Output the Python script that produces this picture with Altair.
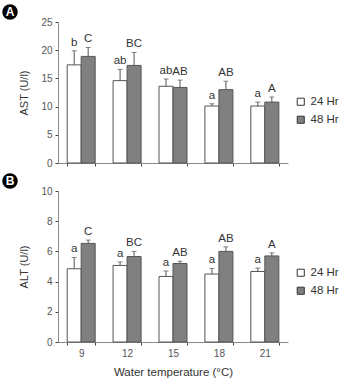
import altair as alt
import pandas as pd

temps = ["9", "12", "15", "18", "21"]
groups = ["24 Hr", "48 Hr"]

ast_24 = [17.4, 14.6, 13.6, 10.1, 10.1]
ast_24_upper = [19.9, 16.6, 14.9, 10.5, 10.8]
ast_48 = [18.9, 17.3, 13.4, 13.0, 10.8]
ast_48_upper = [20.5, 19.6, 14.7, 14.5, 11.7]
ast_24_letters = ["b", "ab", "ab", "a", "a"]
ast_48_letters = ["C", "BC", "AB", "AB", "A"]

alt_24 = [4.85, 5.07, 4.34, 4.5, 4.67]
alt_24_upper = [5.6, 5.3, 4.7, 4.87, 4.9]
alt_48 = [6.53, 5.66, 5.2, 6.0, 5.7]
alt_48_upper = [6.75, 6.0, 5.35, 6.3, 5.9]
alt_24_letters = ["a", "a", "a", "a", "a"]
alt_48_letters = ["C", "BC", "AB", "AB", "A"]


def make_df(v24, u24, l24, v48, u48, l48):
    rows = []
    for i, t in enumerate(temps):
        rows.append({"temp": t, "group": groups[0], "value": v24[i], "upper": u24[i], "letter": l24[i]})
        rows.append({"temp": t, "group": groups[1], "value": v48[i], "upper": u48[i], "letter": l48[i]})
    return pd.DataFrame(rows)


AXIS_GREY = "#8a8a8a"
TXT = "#555555"
FONT = "Liberation Sans"


def panel(df, ytitle, ymax, ystep, height, show_x, tag, legend_y):
    base = alt.Chart(df)
    if show_x:
        xaxis = alt.Axis(title="Water temperature (°C)", labelAngle=0, tickBand="extent",
                         labelFontSize=10, labelColor=TXT, titleFontSize=11.5, titleColor="#333",
                         titleFontWeight="normal", titlePadding=8, domainColor=AXIS_GREY,
                         tickColor="#444", tickSize=3, labelPadding=3)
    else:
        xaxis = alt.Axis(title=None, labels=False, tickBand="extent", domainColor=AXIS_GREY,
                         tickColor="#444", tickSize=3)
    x = alt.X("temp:N", sort=temps, scale=alt.Scale(paddingInner=0.39, paddingOuter=0.2), axis=xaxis)
    xo = alt.XOffset("group:N", sort=groups, scale=alt.Scale(domain=groups, paddingInner=0, paddingOuter=0))
    yscale = alt.Scale(domain=[0, ymax], nice=False)
    yaxis = alt.Axis(title=ytitle, values=list(range(0, ymax + 1, ystep)), grid=False,
                     labelFontSize=10, labelColor=TXT, titleFontSize=11, titleColor="#333",
                     titleFontWeight="normal", titlePadding=11, domainColor=AXIS_GREY,
                     tickColor="#444", tickSize=3, labelPadding=3, labelOverlap=False)
    y_val = alt.Y("value:Q", scale=yscale, axis=yaxis)
    y_up = alt.Y("upper:Q", scale=yscale, axis=yaxis)
    bars = base.mark_bar(stroke="#555", strokeWidth=1).encode(
        x=x, xOffset=xo, y=y_val,
        color=alt.Color("group:N", sort=groups,
                        scale=alt.Scale(domain=groups, range=["#ffffff", "#808080"]),
                        legend=alt.Legend(title=None, orient="none", legendX=237, legendY=legend_y,
                                          symbolType="square", symbolSize=50, symbolStrokeColor="#333",
                                          symbolStrokeWidth=1, labelFontSize=11.5, labelColor="#333",
                                          rowPadding=5, labelFont=FONT, labelOffset=4)),
    )
    rules = base.mark_rule(color="#555", strokeWidth=1).encode(
        x=x, xOffset=xo, y=y_val, y2="upper:Q")
    caps = base.mark_tick(size=5, thickness=1, color="#555", orient="horizontal").encode(
        x=x, xOffset=xo, y=y_up)
    letters = base.mark_text(baseline="bottom", dy=-3, fontSize=11.5, color="#333", font=FONT).encode(
        x=x, xOffset=xo, y=y_up, text="letter:N")
    tagdf = pd.DataFrame({"tag": [tag]})
    circ = alt.Chart(tagdf).mark_circle(color="black", opacity=1, size=240).encode(
        x=alt.value(-48), y=alt.value(-10))
    tagtxt = alt.Chart(tagdf).mark_text(color="white", fontWeight="bold", fontSize=12, font=FONT,
                                        baseline="middle", align="center").encode(
        x=alt.value(-48), y=alt.value(-10), text="tag:N")
    return alt.layer(bars, rules, caps, letters, circ, tagtxt).properties(width=230, height=height)


dfA = make_df(ast_24, ast_24_upper, ast_24_letters, ast_48, ast_48_upper, ast_48_letters)
dfB = make_df(alt_24, alt_24_upper, alt_24_letters, alt_48, alt_48_upper, alt_48_letters)

pA = panel(dfA, "AST (U/l)", 25, 5, 141, False, "A", 74)
pB = panel(dfB, "ALT (U/l)", 10, 2, 151, True, "B", 76)

chart = alt.vconcat(pA, pB, spacing=5).resolve_scale(color="independent").properties(
    padding={"left": 2, "top": 4, "right": 0, "bottom": 0}
).configure(font=FONT, background="white").configure_view(stroke=None)

chart.save("out.html", embed_options={"renderer": "svg", "actions": False})
